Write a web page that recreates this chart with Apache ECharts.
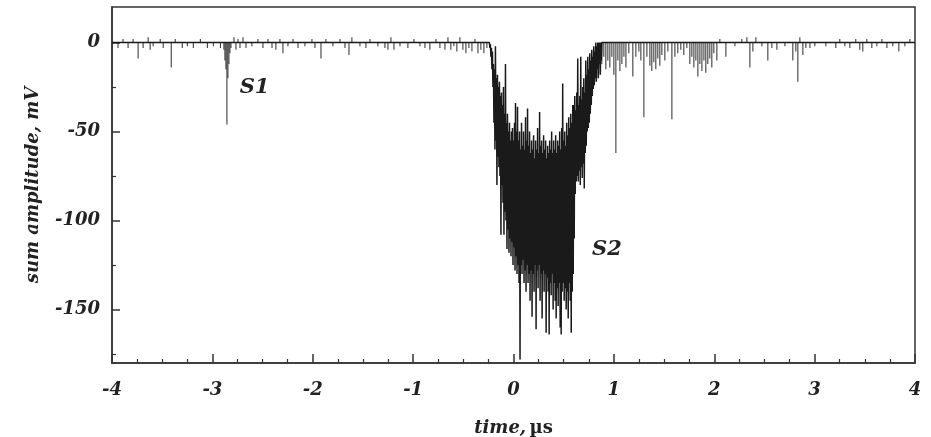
<!DOCTYPE html>
<html><head><meta charset="utf-8">
<script src="https://cdn.jsdelivr.net/npm/echarts@6/dist/echarts.min.js"></script>
<style>html,body{margin:0;padding:0;background:#fff}#c{width:931px;height:437px}</style>
</head><body><div id="c"></div>
<script>
// ---- axis ticks ----
const xRange = [-4, 4];
const yRange = [-180, 20];
const yMajorTicks = [-150, -100, -50, 0];
const yMinorTicks = [-175, -125, -75, -25];

// ---- baseline spikes (time µs, amplitude mV) before S2 ----
const spikeLeftT = [-3.94,-3.89,-3.84,-3.79,-3.74,-3.69,-3.64,-3.62,-3.59,-3.52,-3.49,-3.41,-3.37,-3.30,-3.25,-3.19,-3.12,-3.05,-2.99,-2.92,
  -2.885,-2.875,-2.865,-2.855,-2.845,-2.835,-2.825,-2.815,
  -2.785,-2.765,-2.745,-2.725,-2.695,-2.665,-2.606,-2.546,-2.496,-2.446,-2.406,-2.367,-2.327,-2.297,-2.247,-2.197,-2.147,-2.078,-2.008,-1.978,-1.918,-1.869,
  -1.799,-1.729,-1.679,-1.639,-1.610,-1.530,-1.470,-1.430,-1.351,-1.281,-1.251,-1.221,-1.191,-1.131,-1.052,-0.992,-0.932,-0.882,-0.833,-0.773,
  -0.733,-0.683,-0.653,-0.624,-0.594,-0.564,-0.534,-0.504,-0.474,-0.444,-0.414,-0.384,-0.354,-0.325,-0.295,-0.265];
const spikeLeftV = [-3,2,-3,2,-9,-3,3,-4,-2,2,-3,-14,2,-3,-2,-3,2,-3,-2,-3,
  -4,-10,-15,-46,-20,-12,-6,-3,
  3,-4,2,-3,3,-3,-2,2,-3,2,-3,-4,2,-6,-2,2,-3,-2,2,-3,-9,2,
  -2,2,-3,-7,3,-2,-3,2,-2,-3,-4,3,-4,-2,-3,2,-2,-3,-4,2,
  -3,-4,3,-4,-2,-5,3,-4,-6,-3,-5,2,-6,-4,-6,-3];

// ---- S2 pulse, sampled every 5 ns from -0.24 µs (mV) ----
const s2Start = -0.24;
const s2Step = 0.005;
const s2Values = [
  0,-3, -1,-8, -3,-15, -5,-25, -12,-45, -15,-60, -2,-55, -20,-80, -18,-64, -25,-70,
  -22,-75, -30,-108, -28,-80, -35,-90, -25,-108, -40,-95, -12,-100, -45,-116, -40,-105, -50,-118,
  -45,-110, -55,-120, -50,-112, -48,-125, -55,-115, -45,-128, -34,-120, -50,-130, -36,-125, -55,-135,
  -50,-178, -60,-125, -45,-130, -58,-122, -50,-135, -60,-128, -42,-140, -55,-125, -37,-135, -58,-130,
  -50,-145, -62,-128, -55,-154, -60,-130, -52,-140, -65,-125, -55,-161, -60,-128, -48,-138, -62,-125,
  -39,-145, -58,-130, -55,-155, -62,-128, -52,-140, -60,-130, -55,-163, -65,-132, -58,-140, -62,-164,
  -55,-135, -60,-142, -50,-130, -62,-150, -55,-135, -60,-145, -52,-155, -62,-138, -55,-148, -58,-135,
  -50,-160, -60,-164, -48,-140, -23,-135, -55,-145, -50,-138, -58,-150, -45,-140, -52,-155, -42,-135,
  -48,-145, -40,-163, -45,-140, -35,-130, -35,-110, -30,-85, -38,-78, -28,-75, -9,-78, -35,-72,
  -30,-80, -8,-70, -32,-76, -25,-68, -20,-82, -28,-62, -10,-58, -18,-50, -8,-48, -15,-45,
  -6,-40, -10,-35, -4,-30, -8,-26, -2,-24, -5,-20, 0,-22, -2,-15, 0,-20, 0,-12,
  0,-18, 0,-10, 0,0
];

// ---- baseline spikes after S2 ----
const spikeRightT = [0.880,0.900,0.920,0.940,0.960,0.980,1.000,1.020,1.040,1.060,1.080,1.100,1.120,1.149,1.189,1.219,1.249,1.269,1.299,1.329,
  1.359,1.378,1.398,1.418,1.438,1.458,1.478,1.508,1.538,1.578,1.608,1.637,1.667,1.697,1.727,1.757,1.777,1.797,1.817,1.837,
  1.857,1.877,1.897,1.916,1.936,1.956,1.976,1.996,2.026,2.056,2.116,2.206,2.275,2.325,2.355,2.385,2.415,2.475,2.534,2.574,
  2.624,2.704,2.783,2.813,2.833,2.853,2.883,2.913,2.953,3.002,3.112,3.211,3.251,3.301,3.351,3.410,3.450,3.480,3.520,3.570,
  3.620,3.670,3.720,3.779,3.839,3.899,3.949];
const spikeRightV = [-12,-8,-15,-10,-14,-8,-18,-62,-10,-16,-12,-8,-14,-6,-19,-8,-5,-10,-42,-8,
  -13,-16,-11,-15,-9,-13,-7,-10,-5,-43,-8,-6,-4,-7,-3,-12,-8,-14,-10,-19,
  -12,-16,-10,-17,-12,-9,-14,-6,-10,2,-8,-2,2,3,-14,-5,3,-2,-10,-3,
  -4,-2,-10,-5,-22,3,-7,-3,-3,-2,-2,-3,2,-2,-3,2,-4,-5,2,-3,
  -2,2,-3,-2,-5,-2,2];

// ---- annotations ----
const labelNames = ['S1', 'S2'];
const labelT = [-2.58, 0.93];
const labelV = [-25, -116];

const FONT = 'DejaVu Serif';
const INK = '#222';

const trace = [[xRange[0], 0]];
s2Values.forEach((v, i) => trace.push([s2Start + i * s2Step, v]));
trace.push([xRange[1], 0]);

const spikes = [];
spikeLeftT.forEach((t, i) => spikes.push([t, spikeLeftV[i]]));
spikeRightT.forEach((t, i) => spikes.push([t, spikeRightV[i]]));

const txt = {fontFamily: FONT, fontWeight: 'bold', fontStyle: 'italic', fontSize: 18, color: INK};

const chart = echarts.init(document.getElementById('c'), null, {renderer: 'canvas'});
chart.setOption({
  animation: false,
  backgroundColor: '#fff',
  grid: {left: 112, right: 16, top: 7, bottom: 74, show: true, borderColor: '#333', borderWidth: 1.5,
         containLabel: false, outerBoundsMode: 'none'},
  xAxis: {
    type: 'value', min: xRange[0], max: xRange[1], interval: 1,
    axisLine: {show: true, onZero: false, lineStyle: {color: '#333', width: 1.5}},
    axisTick: {show: true, inside: true, length: 9, lineStyle: {color: '#333', width: 1.5}},
    minorTick: {show: true, splitNumber: 4, length: 4, lineStyle: {color: '#333', width: 1.2}},
    splitLine: {show: false},
    axisLabel: Object.assign({margin: 18, formatter: v => String(v)}, txt),
    name: '{i|time,} {n|µs}', nameLocation: 'middle', nameGap: 56,
    nameTextStyle: {rich: {i: Object.assign({}, txt), n: Object.assign({}, txt, {fontStyle: 'normal'})}}
  },
  yAxis: [{
    type: 'value', min: yRange[0], max: yRange[1], position: 'left',
    axisLine: {show: true, onZero: false, lineStyle: {color: '#333', width: 1.5}},
    axisTick: {show: true, inside: true, length: 8, customValues: yMajorTicks, lineStyle: {color: '#333', width: 1.5}},
    axisLabel: Object.assign({margin: 12, customValues: yMajorTicks, formatter: v => String(v)}, txt),
    splitLine: {show: false},
    name: 'sum amplitude, mV', nameLocation: 'middle', nameGap: 70, nameRotate: 90,
    nameTextStyle: Object.assign({}, txt)
  }, {
    type: 'value', min: yRange[0], max: yRange[1], position: 'left',
    axisLine: {show: false, onZero: false},
    axisTick: {show: true, inside: true, length: 4, customValues: yMinorTicks, lineStyle: {color: '#333', width: 1.2}},
    axisLabel: {show: false},
    splitLine: {show: false}
  }],
  series: [{
    type: 'bar', xAxisIndex: 0, yAxisIndex: 0, data: spikes, barWidth: 1,
    itemStyle: {color: '#2a2a2a'}, silent: true,
    markPoint: {
      symbol: 'circle', symbolSize: 1, itemStyle: {color: 'rgba(0,0,0,0)'},
      label: Object.assign({show: true, position: 'inside', formatter: p => p.name}, txt, {fontSize: 21}),
      data: labelNames.map((n, i) => ({name: n, coord: [labelT[i], labelV[i]]}))
    }
  }, {
    type: 'line', xAxisIndex: 0, yAxisIndex: 0, data: trace, showSymbol: false, symbol: 'none',
    lineStyle: {color: '#1a1a1a', width: 1.5}, silent: true
  }]
});
</script></body></html>
